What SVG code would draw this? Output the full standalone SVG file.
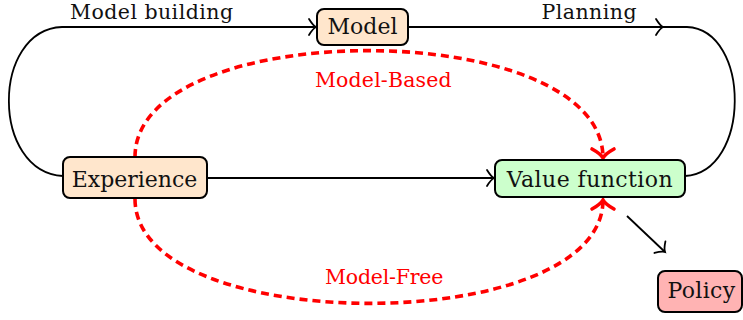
<svg xmlns="http://www.w3.org/2000/svg" width="743" height="320" viewBox="0 0 743 320">
<style>
.node rect{stroke:#000;stroke-width:2}
text{font-family:'DejaVu Serif',serif;font-size:22px;text-anchor:middle;fill:#111}
text.lbl{font-size:20.5px}
.red{fill:#ff0000;font-size:20.5px}
.edge{fill:none;stroke:#000;stroke-width:1.8}
.dash{fill:none;stroke:#ff0000;stroke-width:3.6;stroke-dasharray:8,5}
</style>
<defs>
<marker id="ah" markerUnits="userSpaceOnUse" viewBox="-10 -10 12 20" refX="0" refY="0" markerWidth="12" markerHeight="20" orient="auto" overflow="visible">
<path d="M-7,-8 Q-3,-1.5 0,0 Q-3,1.5 -7,8" fill="none" stroke="#000" stroke-width="1.8" stroke-linecap="round"/>
</marker>
<marker id="rh" markerUnits="userSpaceOnUse" viewBox="-12 -14 14 28" refX="0" refY="0" markerWidth="14" markerHeight="28" orient="auto" overflow="visible">
<path d="M-9,-11 Q-4,-2 0,0 Q-4,2 -9,11" fill="none" stroke="#ff0000" stroke-width="3.6" stroke-linecap="round"/>
</marker>
</defs>
<g id="connectors">
<path class="edge" d="M63,176 C-9,172 -9,30 62,27 L316,27" marker-end="url(#ah)"/>
<path class="edge" d="M408,27 L663,27" marker-end="url(#ah)"/>
<path class="edge" d="M662,27 L687,27 C751,30 751,172 685,176"/>
<path class="edge" d="M207,178 L494,178" marker-end="url(#ah)"/>
<path class="edge" d="M627,216 L665,252" marker-end="url(#ah)"/>
<path class="dash" d="M135,157 C135,15 603,15 603,158" marker-end="url(#rh)"/>
<path class="dash" d="M135,199 C135,338 603,338 603,200" marker-end="url(#rh)"/>
<text class="lbl" x="151.5" y="19" textLength="163">Model building</text>
<text class="lbl" x="589" y="19" textLength="95">Planning</text>
<text class="red" x="383.3" y="87.3" textLength="136.7">Model-Based</text>
<text class="red" x="384.2" y="284.3" textLength="118.3">Model-Free</text>
</g>
<g id="model" class="node">
<rect x="317" y="9" width="91" height="36" rx="7" fill="#ffe6cc"/>
<text x="362.5" y="34.3" textLength="70">Model</text>
</g>
<g id="experience" class="node">
<rect x="63" y="157" width="144" height="41" rx="7" fill="#ffe6cc"/>
<text x="134.5" y="186.5" textLength="125.6">Experience</text>
</g>
<g id="value" class="node">
<rect x="495" y="160" width="190" height="37" rx="7" fill="#ccffcc"/>
<text x="589.7" y="186.7" textLength="166">Value function</text>
</g>
<g id="policy" class="node">
<rect x="658" y="271" width="84" height="41" rx="7" fill="#ffb3b3"/>
<text x="701.3" y="298.3" textLength="67.7">Policy</text>
</g>
</svg>
